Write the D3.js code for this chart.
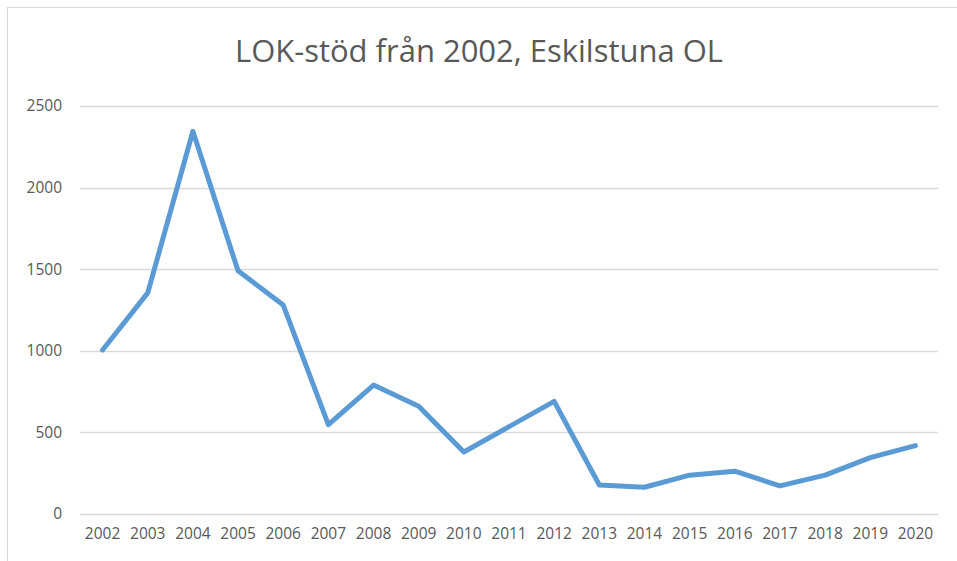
<!DOCTYPE html>
<html>
<head>
<meta charset="utf-8">
<script src="https://cdn.jsdelivr.net/npm/d3@7"></script>
<style>
	body { margin: 0; background: #fff; }
	svg { display: block; }
	text { font-family: "Open Sans", "Liberation Sans", sans-serif; fill: #595959; }
</style>
</head>
<body>
<svg id="chart"></svg>
<script>
// data
const years = ["2002", "2003", "2004", "2005", "2006", "2007", "2008", "2009", "2010", "2011",
	"2012", "2013", "2014", "2015", "2016", "2017", "2018", "2019", "2020"];
const lokValues = [1005, 1355, 2345, 1490, 1280, 548, 790, 660, 380, 535,
	690, 178, 164, 238, 262, 172, 238, 345, 419];
const yTicks = [0, 500, 1000, 1500, 2000, 2500];
const titleText = "LOK-stöd från 2002, Eskilstuna OL";

const width = 957, height = 561;
const margin = {top: 106, right: 19, bottom: 47, left: 80};

const svg = d3.select("#chart")
	.attr("width", width)
	.attr("height", height);

// chart frame (only left and top edges visible in the crop)
svg.append("rect")
	.attr("x", 7.5).attr("y", 7.5)
	.attr("width", width + 20).attr("height", height + 20)
	.attr("fill", "none")
	.attr("stroke", "#d9d9d9")
	.attr("stroke-width", 1);

const x = d3.scaleBand()
	.domain(years)
	.range([margin.left, width - margin.right]);

const y = d3.scaleLinear()
	.domain([0, 2500])
	.range([height - margin.bottom, margin.top]);

// gridlines
svg.append("g")
	.selectAll("line")
	.data(yTicks)
	.join("line")
		.attr("x1", margin.left)
		.attr("x2", width - margin.right)
		.attr("y1", d => Math.round(y(d)) + 0.5)
		.attr("y2", d => Math.round(y(d)) + 0.5)
		.attr("stroke", "#d9d9d9")
		.attr("stroke-width", 1.3);

// y axis labels
const yAxis = svg.append("g")
	.attr("transform", "translate(" + margin.left + ",0)")
	.call(d3.axisLeft(y).tickValues(yTicks).tickFormat(d3.format("d")).tickSize(0).tickPadding(18));
yAxis.select(".domain").remove();
yAxis.selectAll("text")
	.style("font-size", "15.5px")
	.attr("fill", "#595959");

// x axis labels
const xAxis = svg.append("g")
	.attr("transform", "translate(0," + (height - margin.bottom) + ")")
	.call(d3.axisBottom(x).tickSize(0).tickPadding(14));
xAxis.select(".domain").remove();
xAxis.selectAll("text")
	.style("font-size", "15.5px")
	.attr("fill", "#595959");

// series line
const line = d3.line()
	.x((d, i) => x(years[i]) + x.bandwidth() / 2)
	.y(d => y(d));

svg.append("path")
	.datum(lokValues)
	.attr("d", line)
	.attr("fill", "none")
	.attr("stroke", "#5b9bd5")
	.attr("stroke-width", 5)
	.attr("stroke-linejoin", "round")
	.attr("stroke-linecap", "round");

// title, sized to the width it takes in the reference
const title = svg.append("text")
	.attr("x", 479)
	.attr("y", 62)
	.attr("text-anchor", "middle")
	.style("font-size", "32px")
	.text(titleText);

const w = title.node().getComputedTextLength();
if (w > 0) {
	title.style("font-size", (32 * 488 / w).toFixed(2) + "px");
}
</script>
</body>
</html>
